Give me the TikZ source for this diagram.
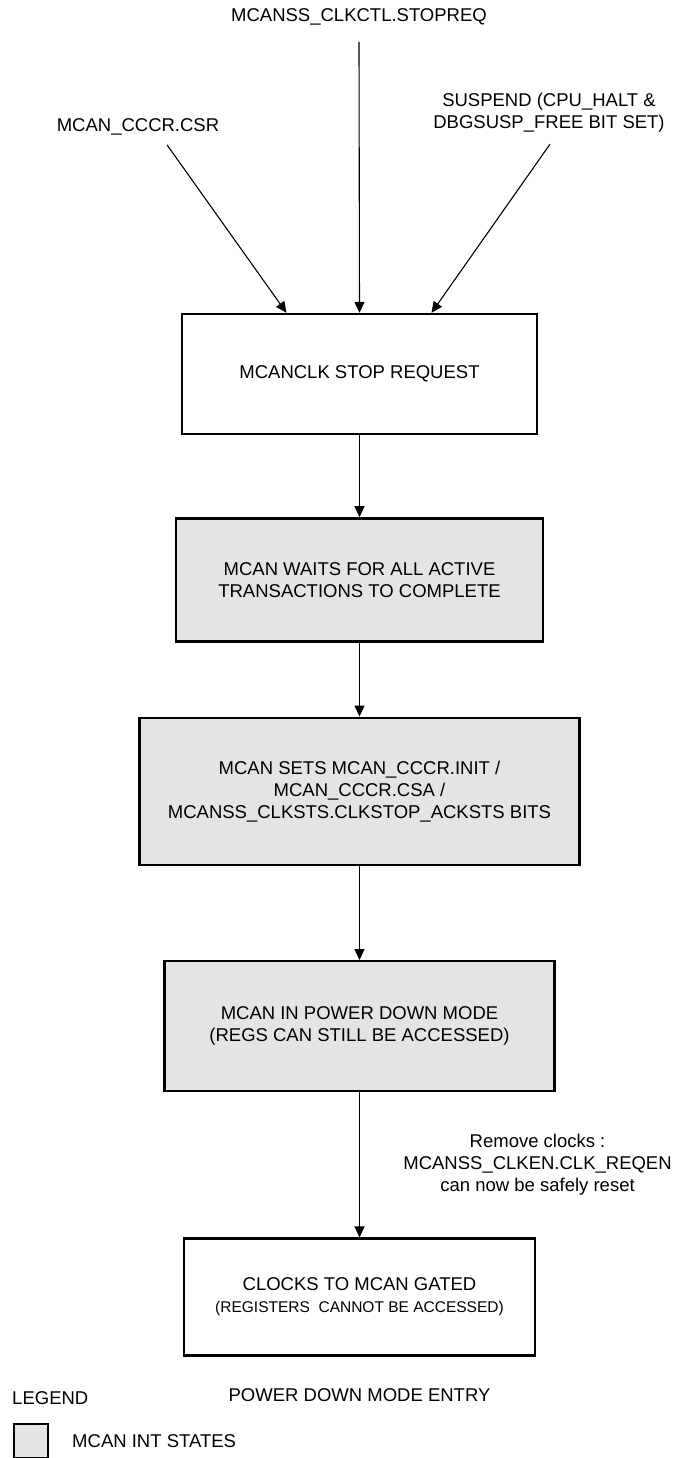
\documentclass[tikz,border=0pt]{standalone}
\usepackage{fontspec}
\setmainfont{Liberation Sans}
\usetikzlibrary{arrows.meta, positioning}
\definecolor{stategray}{RGB}{228,228,228}

\begin{document}
\begin{tikzpicture}[
  x=1pt, y=-1pt, font=\fontsize{18.5}{22}\selectfont,
  state/.style   ={rectangle, draw, line width=2.4pt, align=center, inner sep=0pt},
  intstate/.style={state, fill=stategray},
  arrow/.style   ={-{Triangle[length=11pt, width=10pt]}, line width=1.1pt},
]
  \useasboundingbox (0,0) rectangle (675,1458);
  \node                 (stopreq) at (359,17)  {MCANSS\_CLKCTL.STOPREQ};
  \node                 (csr)     at (138,127) {MCAN\_CCCR.CSR};
  \node[align=center]   (suspend) at (549,113) {SUSPEND (CPU\_HALT \&\\DBGSUSP\_FREE BIT SET)};
  \node[state,    minimum width=355pt, minimum height=120pt] (req) at (359.5,374) {MCANCLK STOP REQUEST};
  \node[intstate, minimum width=367pt, minimum height=123pt, below=82pt of req]  (wait)
       {MCAN WAITS FOR ALL ACTIVE\\TRANSACTIONS TO COMPLETE};
  \node[intstate, minimum width=440pt, minimum height=147pt, below=74pt of wait] (sets)
       {MCAN SETS MCAN\_CCCR.INIT /\\MCAN\_CCCR.CSA /\\MCANSS\_CLKSTS.CLKSTOP\_ACKSTS BITS};
  \node[intstate, minimum width=390pt, minimum height=130pt, below=94pt of sets] (pdm)
       {MCAN IN POWER DOWN MODE\\(REGS CAN STILL BE ACCESSED)};
  \node[state,    minimum width=351pt, minimum height=117pt, below=145pt of pdm] (gated)
       {CLOCKS TO MCAN GATED\\{\fontsize{15.5}{18}\selectfont (REGISTERS\ \ CANNOT BE ACCESSED)}};
  \node[below=28pt of gated] (title) {POWER DOWN MODE ENTRY};
  \node[anchor=west] (legend) at (8.7,1398) {LEGEND};
  \node[intstate, line width=2pt, minimum width=34pt, minimum height=34pt,
        below right=15pt and 4pt of legend.south west] (key) {};
  \node[right=20pt of key] (keytext) {MCAN INT STATES};
  \draw[arrow] ([xshift=29pt, yshift=-6pt]csr.south) -- ([xshift=-73pt]req.north);
  \draw[arrow] ([yshift=-13pt]stopreq.south) -- (req.north);
  \draw[arrow] ([xshift=1pt, yshift=-8pt]suspend.south) -- ([xshift=72pt]req.north);
  \draw[arrow] (req) -- (wait); \draw[arrow] (wait) -- (sets); \draw[arrow] (sets) -- (pdm);
  \draw[arrow] (pdm) -- node[right=40pt, align=center] (rmclk)
       {Remove clocks :\\MCANSS\_CLKEN.CLK\_REQEN\\can now be safely reset} (gated);
\end{tikzpicture}
\end{document}
